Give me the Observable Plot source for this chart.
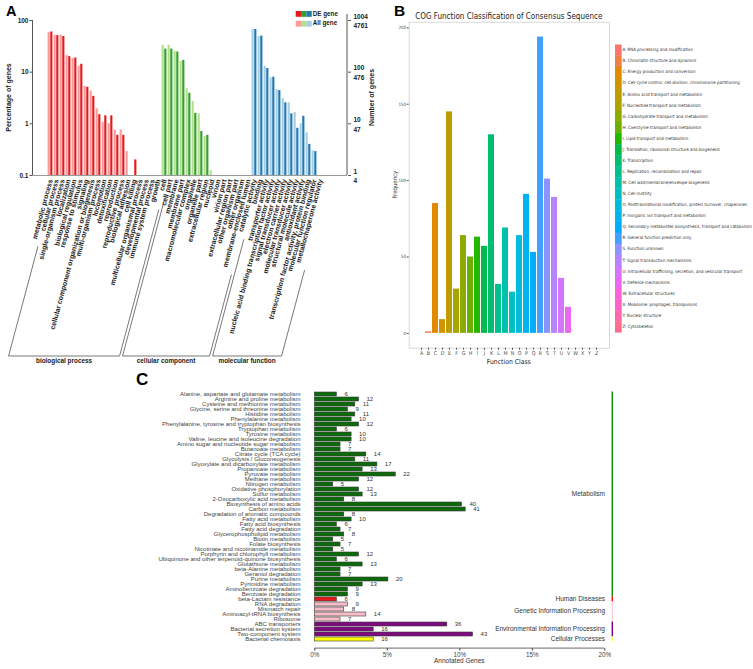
<!DOCTYPE html>
<html><head><meta charset="utf-8">
<script src="https://cdn.jsdelivr.net/npm/d3@7"></script>
<script src="https://cdn.jsdelivr.net/npm/@observablehq/plot@0.6"></script>
<style>
body{margin:0;background:#fff;}
#wrap{position:relative;width:753px;height:669px;overflow:hidden;background:#fff;}
#wrap svg{position:absolute;}
</style></head><body><div id="wrap"></div>
<script>
// ================= DATA =================
// Panel A: GO classification (percentage of genes; All gene vs DE gene)
const bpTerms = ["metabolic process","cellular process","single-organism process","localization","biological regulation","response to stimulus","signaling","cellular component organization or biogenesis","multi-organism process","locomotion","detoxification","reproduction","reproductive process","biological adhesion","cell killing","multicellular organismal process","developmental process","immune system process","growth"];
const bpAll = [58,52,52,21,18.3,13,5.3,4.3,1.95,1.07,1.0,0.76,0.76,0.29,0,0,0,0,0];
const bpDE  = [60,51,49,20,18.8,14.2,5.1,3.4,1.5,1.43,1.43,0.6,0.6,0,0.2,0,0,0,0];
const ccTerms = ["cell","cell part","membrane","membrane part","macromolecular complex","organelle","organelle part","extracellular region","nucleoid","virion","virion part","extracellular region part","other organism part","other organism","membrane-enclosed lumen"];
const ccAll = [33,33,25.3,16.2,4.8,2.7,1.56,0.57,0.124,0,0,0,0,0,0];
const ccDE  = [28,28,24.6,16.9,3.9,1.6,0.71,0.6,0,0,0,0,0,0,0];
const mfTerms = ["catalytic activity","binding","transporter activity","nucleic acid binding transcription factor activity","signal transducer activity","electron carrier activity","molecular transducer activity","structural molecule activity","antioxidant activity","transcription factor activity, protein binding","molecular function regulator","metallochaperone activity"];
const mfAll = [67,49,13.1,7.8,4.6,3.1,2.55,1.66,1.0,0.67,0.30,0];
const mfDE  = [67,50,11.8,8.0,4.4,2.55,1.56,0.82,1.4,0.4,0.29,0];
const goGroupNames = ["biological process","cellular component","molecular function"];
const pctTicks = [100,10,1,0.1];
const geneTicksDE = [1004,100,10,1];
const geneTicksAll = [4761,476,47,4];
const goSeriesNames = ["DE gene","All gene"];

// Panel B: COG function classification
const cogLetters = ["A","B","C","D","E","F","G","H","I","J","K","L","M","N","O","P","Q","R","S","T","U","V","W","X","Y","Z"];
const cogCounts = [0,1,85,9,145,29,64,50,63,57,130,32,69,27,64,91,53,194,101,89,36,17,0,0,0,0];
const cogDescriptions = ["RNA processing and modification","Chromatin structure and dynamics","Energy production and conversion","Cell cycle control, cell division, chromosome partitioning","Amino acid transport and metabolism","Nucleotide transport and metabolism","Carbohydrate transport and metabolism","Coenzyme transport and metabolism","Lipid transport and metabolism","Translation, ribosomal structure and biogenesis","Transcription","Replication, recombination and repair","Cell wall/membrane/envelope biogenesis","Cell motility","Posttranslational modification, protein turnover, chaperones","Inorganic ion transport and metabolism","Secondary metabolites biosynthesis, transport and catabolism","General function prediction only","Function unknown","Signal transduction mechanisms","Intracellular trafficking, secretion, and vesicular transport","Defense mechanisms","Extracellular structures","Mobilome: prophages, transposons","Nuclear structure","Cytoskeleton"];
const cogTicks = [0,50,100,150,200];

// Panel C: KEGG pathways
const keggPathways = ["Alanine, aspartate and glutamate metabolism","Arginine and proline metabolism","Cysteine and methionine metabolism","Glycine, serine and threonine metabolism","Histidine metabolism","Phenylalanine metabolism","Phenylalanine, tyrosine and tryptophan biosynthesis","Tryptophan metabolism","Tyrosine metabolism","Valine, leucine and isoleucine degradation","Amino sugar and nucleotide sugar metabolism","Butanoate metabolism","Citrate cycle (TCA cycle)","Glycolysis / Gluconeogenesis","Glyoxylate and dicarboxylate metabolism","Propanoate metabolism","Pyruvate metabolism","Methane metabolism","Nitrogen metabolism","Oxidative phosphorylation","Sulfur metabolism","2-Oxocarboxylic acid metabolism","Biosynthesis of amino acids","Carbon metabolism","Degradation of aromatic compounds","Fatty acid metabolism","Fatty acid biosynthesis","Fatty acid degradation","Glycerophospholipid metabolism","Biotin metabolism","Folate biosynthesis","Nicotinate and nicotinamide metabolism","Porphyrin and chlorophyll metabolism","Ubiquinone and other terpenoid-quinone biosynthesis","Glutathione metabolism","beta-Alanine metabolism","Geraniol degradation","Purine metabolism","Pyrimidine metabolism","Aminobenzoate degradation","Benzoate degradation","beta-Lactam resistance","RNA degradation","Mismatch repair","Aminoacyl-tRNA biosynthesis","Ribosome","ABC transporters","Bacterial secretion system","Two-component system","Bacterial chemotaxis"];
const keggCounts = [6,12,11,9,11,10,12,6,10,10,7,7,14,11,17,13,22,12,5,12,13,8,40,41,8,10,6,7,8,5,7,5,12,6,13,7,7,20,13,9,9,6,9,8,14,7,36,16,43,16];
const keggClasses = ["Metabolism","Human Diseases","Genetic Information Processing","Environmental Information Processing","Cellular Processes"];
const keggClassSizes = [41,1,4,3,1];
const keggAnnotatedTotal = 394;
const keggTicks = [0,5,10,15,20];

// ================= STYLE =================
const SANS = "'Liberation Sans', Arial, Helvetica, sans-serif";
const NARROW = "'Liberation Sans Narrow', 'Arial Narrow', 'DejaVu Sans Condensed', sans-serif";
const goDark = ["#e31a1c","#33a02c","#1f78b4"];
const goLight = ["#fb9a99","#b2df8a","#a6cee3"];
const keggFill = ["#0b6b0b","#e31a1c","#f6bcc8","#7f0a80","#ffff00"];
const keggLine = ["#0a8a0a","#ff0000","#ffd3dc","#800080","#ffff66"];

// ggplot-style hue palette (polar Luv)
function hclLuv(h, c, l) {
  const Xn = 95.047, Yn = 100, Zn = 108.883;
  const den = Xn + 15*Yn + 3*Zn, un = 4*Xn/den, vn = 9*Yn/den;
  const hr = h*Math.PI/180, u = c*Math.cos(hr), v = c*Math.sin(hr);
  const Y = l > 8 ? Yn*Math.pow((l+16)/116, 3) : Yn*l/903.3;
  const up = u/(13*l) + un, vp = v/(13*l) + vn;
  const X = Y*9*up/(4*vp), Z = Y*(12 - 3*up - 20*vp)/(4*vp);
  const x = X/100, y = Y/100, z = Z/100;
  const r = 3.2404542*x - 1.5371385*y - 0.4985314*z;
  const g = -0.9692660*x + 1.8760108*y + 0.0415560*z;
  const b = 0.0556434*x - 0.2040259*y + 1.0572252*z;
  const gam = t => { t = Math.max(0, Math.min(1, t)); return t <= 0.0031308 ? 12.92*t : 1.055*Math.pow(t, 1/2.4) - 0.055; };
  return d3.rgb(gam(r)*255, gam(g)*255, gam(b)*255).formatHex();
}
const cogColors = cogLetters.map((_, i) => hclLuv(15 + i*360/cogLetters.length, 100, 65));

const wrap = d3.select("#wrap");
function addText(sel, x, y, str, opts = {}) {
  const t = sel.append("text")
    .attr("x", x).attr("y", y)
    .attr("text-anchor", opts.anchor || "start")
    .attr("dominant-baseline", opts.baseline || "auto")
    .attr("font-size", opts.size || 7)
    .attr("font-weight", opts.weight || "normal")
    .attr("font-family", opts.family || SANS)
    .attr("fill", opts.fill || "#1a1a1a")
    .text(str);
  if (opts.rotate) t.attr("transform", `rotate(${opts.rotate},${x},${y})`);
  return t;
}

// ================= PANEL A =================
const goGroups = [
  {terms: bpTerms, all: bpAll, de: bpDE},
  {terms: ccTerms, all: ccAll, de: ccDE},
  {terms: mfTerms, all: mfAll, de: mfDE}
];
const goTerms = goGroups.flatMap(g => g.terms);
const goAllRows = goGroups.flatMap((g, gi) => g.terms.map((t, i) => ({term: t, gi, value: g.all[i]}))).filter(d => d.value > 0);
const goDERows = goGroups.flatMap((g, gi) => g.terms.map((t, i) => ({term: t, gi, value: g.de[i]}))).filter(d => d.value > 0);

const plotA = Plot.plot({
  width: 380, height: 370,
  marginLeft: 32.5, marginRight: 33, marginTop: 20, marginBottom: 195,
  style: {background: "transparent", fontFamily: SANS, color: "#1a1a1a"},
  x: {domain: goTerms, range: [35.5, 334.5], padding: 0, axis: null},
  y: {type: "log", domain: [0.1, 100], axis: null, label: null},
  marks: [
    Plot.barY(goAllRows, {x: "term", y1: 0.1, y2: "value", fill: d => goLight[d.gi], insetLeft: 0.6, insetRight: 3.25}),
    Plot.barY(goDERows, {x: "term", y1: 0.1, y2: "value", fill: d => goDark[d.gi], insetLeft: 3.25, insetRight: 0.6}),
    Plot.ruleY([0.1], {stroke: "#9a9a9a", strokeWidth: 1}),
    Plot.axisY({anchor: "left", ticks: pctTicks, tickFormat: d => String(d), tickSize: 3, tickPadding: 1.5, fontSize: 6.5, fontWeight: "bold", label: null, stroke: "#555", fill: "#1a1a1a"}),
    Plot.axisY({anchor: "right", ticks: pctTicks, tickFormat: () => "", tickSize: 3, label: null, stroke: "#555"}),
    Plot.text(pctTicks, {y: d => d, frameAnchor: "right", dx: 6, textAnchor: "start", text: (d, i) => `${geneTicksDE[i]}\n${geneTicksAll[i]}`, lineHeight: 1.45, fontSize: 6.5, fontWeight: "bold", fill: "#1a1a1a"}),
    Plot.text(goTerms, {x: d => d, y: 0.1, dy: 4, rotate: -75, textAnchor: "end", fontSize: 7, fontWeight: "bold", fill: "#1a1a1a"})
  ]
});
plotA.style.left = "0px"; plotA.style.top = "0px";
wrap.node().appendChild(plotA);
{
  const s = d3.select(plotA);
  const xA = plotA.scale("x"), yA = plotA.scale("y");
  const yBase = yA.apply(0.1), yTop = yA.apply(100);
  const xL = 32.5, xR = 380 - 33;
  s.append("line").attr("x1", xL).attr("x2", xL).attr("y1", yTop).attr("y2", yBase).attr("stroke", "#555");
  s.append("line").attr("x1", xR).attr("x2", xR).attr("y1", yTop - 6).attr("y2", yBase).attr("stroke", "#555");
  addText(s, 6, 15.5, "A", {size: 14.5, weight: "bold", fill: "#000"});
  addText(s, 9, (yTop + yBase)/2, "Percentage of genes", {anchor: "middle", baseline: "middle", rotate: -90, size: 7, weight: "bold"});
  addText(s, 372, (yTop + yBase)/2, "Number of genes", {anchor: "middle", baseline: "middle", rotate: -90, size: 7, weight: "bold"});
  // legend
  [goDark, goLight].forEach((cols, r) => {
    cols.forEach((c, k) => s.append("rect").attr("x", 295.7 + k*5.35).attr("y", 11 + r*9.8).attr("width", 5.35).attr("height", 5.8).attr("fill", c));
    addText(s, 312.7, 14 + r*9.8, goSeriesNames[r], {baseline: "middle", size: 6.3, weight: "bold"});
  });
  // group brackets
  const ctx = document.createElement("canvas").getContext("2d");
  ctx.font = `bold 7px ${SANS}`;
  const tanA = Math.tan(15*Math.PI/180), sinA = Math.sin(75*Math.PI/180);
  const y0 = yBase + 4, yH = 356, shift = 6;
  const xAt = (aim, y) => aim - tanA*(y - y0);
  goGroups.forEach((g, gi) => {
    const first = g.terms[0], last = g.terms[g.terms.length - 1];
    const aimL = xA.apply(first) + xA.bandwidth/2 + shift;
    const aimR = xA.apply(last) + xA.bandwidth + shift;
    const topL = y0 + ctx.measureText(first).width*sinA + 8;
    const topR = y0 + ctx.measureText(last).width*sinA + 8;
    const bl = xAt(aimL, yH), br = xAt(aimR, yH);
    const ln = (x1, y1, x2, y2) => s.append("line").attr("x1", x1).attr("y1", y1).attr("x2", x2).attr("y2", y2).attr("stroke", "#555").attr("stroke-width", 0.8);
    ln(xAt(aimL, topL), topL, bl, yH);
    ln(xAt(aimR, topR), topR, br, yH);
    ln(bl, yH, br, yH);
    addText(s, (Math.max(bl, 0) + br)/2, yH + 5.5, goGroupNames[gi], {anchor: "middle", baseline: "middle", size: 6.4, weight: "bold"});
  });
}

// ================= PANEL B =================
const cogRows = cogLetters.map((L, i) => ({letter: L, i, value: cogCounts[i]})).filter(d => d.value > 0);
const plotB = Plot.plot({
  width: 373, height: 370,
  marginLeft: 28.7, marginRight: 144.1, marginTop: 21.7, marginBottom: 22.3,
  style: {background: "transparent", fontFamily: NARROW},
  x: {domain: cogLetters, paddingInner: 0.12, paddingOuter: 0.14, label: null},
  y: {domain: [-9.7, 203.7], label: null},
  marks: [
    Plot.frame({stroke: "#cfcfcf", strokeWidth: 0.8}),
    Plot.barY(cogRows, {x: "letter", y: "value", fill: d => cogColors[d.i]}),
    Plot.axisY({ticks: cogTicks, tickSize: 2, tickPadding: 1, fontSize: 4.5, fill: "#4d4d4d", stroke: "#555", label: null}),
    Plot.axisX({tickSize: 2, tickPadding: 1.5, fontSize: 5.3, fill: "#4d4d4d", stroke: "#555", label: null})
  ]
});
plotB.style.left = "380px"; plotB.style.top = "0px";
wrap.node().appendChild(plotB);
{
  const s = d3.select(plotB);
  const cx = (28.7 + (373 - 144.1))/2;
  addText(s, 14, 15.5, "B", {size: 15.5, weight: "bold", fill: "#000"});
  addText(s, cx, 16.7, "COG Function Classification of Consensus Sequence", {anchor: "middle", baseline: "middle", size: 8, family: NARROW, fill: "#222"});
  addText(s, 15, (21.7 + 347.7)/2, "Frequency", {anchor: "middle", baseline: "middle", rotate: -90, size: 6, family: NARROW, fill: "#333"});
  addText(s, cx, 362, "Function Class", {anchor: "middle", baseline: "middle", size: 6.8, family: NARROW, fill: "#222"});
  const band = d3.scaleBand().domain(cogLetters).range([44.5, 332.3]);
  cogLetters.forEach((L, i) => {
    s.append("rect").attr("x", 235).attr("y", band(L)).attr("width", 6.7).attr("height", band.bandwidth() + 0.3).attr("fill", cogColors[i]);
    addText(s, 242.4, band(L) + band.bandwidth()/2, `${L}: ${cogDescriptions[i]}`, {baseline: "middle", size: 4.4, family: NARROW, fill: "#333"});
  });
}

// ================= PANEL C =================
let ci = 0;
const keggClassOf = keggPathways.map((_, i) => { while (i >= d3.sum(keggClassSizes.slice(0, ci + 1))) ci++; return ci; });
const keggRows = keggPathways.map((p, i) => ({name: p, count: keggCounts[i], pct: keggCounts[i]/keggAnnotatedTotal*100, cls: keggClassOf[i]}));
const plotC = Plot.plot({
  width: 753, height: 299,
  marginLeft: 314.3, marginRight: 148.7, marginTop: 14.2, marginBottom: 20.9,
  style: {background: "transparent", fontFamily: SANS},
  x: {domain: [0, 20], label: null},
  y: {domain: keggPathways, padding: 0.15, label: null},
  marks: [
    Plot.barX(keggRows, {y: "name", x1: 0, x2: "pct", fill: d => keggFill[d.cls], stroke: "#3a3a3a", strokeWidth: 0.6}),
    Plot.text(keggRows, {y: "name", x: "pct", text: d => String(d.count), dx: 7.5, textAnchor: "start", fontSize: 6, fill: "#333"}),
    Plot.axisY({tickSize: 0, tickPadding: 14.3, fontSize: 6, fill: "#444", label: null}),
    Plot.axisX({ticks: keggTicks, tickFormat: d => d + "%", tickSize: 2.5, tickPadding: 1, fontSize: 6.3, fill: "#444", stroke: "#444", label: null})
  ]
});
plotC.style.left = "0px"; plotC.style.top = "370px";
wrap.node().appendChild(plotC);
{
  const s = d3.select(plotC);
  const xC = plotC.scale("x"), yC = plotC.scale("y");
  const yAxis = 299 - 20.9;
  s.append("line").attr("x1", xC.apply(0)).attr("x2", xC.apply(20)).attr("y1", yAxis).attr("y2", yAxis).attr("stroke", "#444").attr("stroke-width", 0.8);
  addText(s, 136, 15, "C", {size: 17, weight: "bold", fill: "#000"});
  addText(s, (xC.apply(0) + xC.apply(20))/2, 291.7, "Annotated Genes", {anchor: "middle", baseline: "middle", size: 6.5, fill: "#333"});
  const bw = yC.bandwidth, gap = yC.step - bw;
  let start = 0;
  keggClasses.forEach((c, k) => {
    const first = keggPathways[start], last = keggPathways[start + keggClassSizes[k] - 1];
    const y1 = yC.apply(first) - gap/2, y2 = yC.apply(last) + bw + gap/2;
    s.append("line").attr("x1", 612.3).attr("x2", 612.3).attr("y1", y1).attr("y2", y2).attr("stroke", keggLine[k]).attr("stroke-width", 1.4);
    addText(s, 605, (y1 + y2)/2, c, {anchor: "end", baseline: "middle", size: 6.5, fill: "#333"});
    start += keggClassSizes[k];
  });
}
</script></body></html>
